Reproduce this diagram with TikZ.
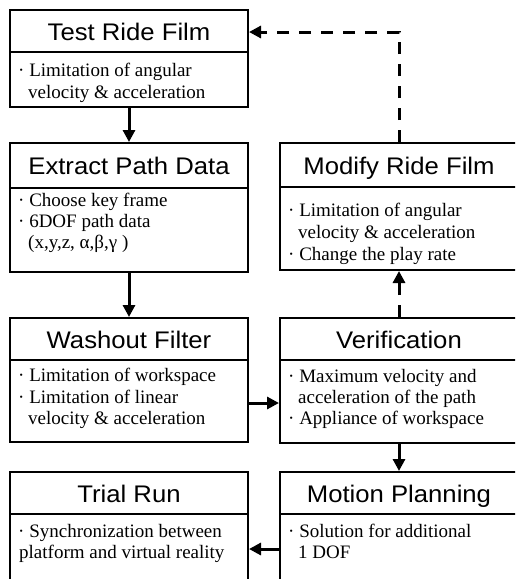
\documentclass[tikz,border=0pt]{standalone}
\usepackage{fontspec}
\setmainfont{Liberation Serif}
\newfontfamily\headfont[FakeStretch=1.07]{Liberation Sans}
\usetikzlibrary{arrows.meta}
\begin{document}
\begin{tikzpicture}[x=1pt,y=-1pt,
  box/.style={draw, line width=2pt, rectangle, inner sep=0pt, minimum width=238pt},
  head/.style={font=\headfont\fontsize{24}{24}\selectfont, anchor=base, inner sep=0pt},
  txt/.style={font=\fontsize{19}{22}\selectfont, anchor=base west, inner sep=0pt},
  rule/.style={line width=1.2pt},
  flow/.style={line width=3pt, -{Triangle[length=12pt,width=12pt]}},
  back/.style={flow, dash pattern=on 12pt off 10pt}]
\clip (0,0) rectangle (515,579);
\fill[white] (0,0) rectangle (515,579);

% ---------- left column ----------
\node[box, minimum height=97pt]  (test)    at (129,58.5)  {};
\node[box, minimum height=129pt] (extract) at (129,207.5) {};
\node[box, minimum height=124pt] (washout) at (129,380)   {};
\node[box, minimum height=114pt] (trial)   at (129,529)   {};
% ---------- right column ----------
\node[box, minimum height=127pt] (modify)  at (399,206.5) {};
\node[box, minimum height=125pt] (verify)  at (399,380.5) {};
\node[box, minimum height=114pt] (motion)  at (399,529)   {};

% title dividers
\draw[rule] (test.west |- 0,52)     -- (test.east |- 0,52);
\draw[rule] (extract.west |- 0,188) -- (extract.east |- 0,188);
\draw[rule] (washout.west |- 0,360) -- (washout.east |- 0,360);
\draw[rule] (trial.west |- 0,514)   -- (trial.east |- 0,514);
\draw[rule] (modify.west |- 0,187)  -- (modify.east |- 0,187);
\draw[rule] (verify.west |- 0,360)  -- (verify.east |- 0,360);
\draw[rule] (motion.west |- 0,514)  -- (motion.east |- 0,514);

% titles
\node[head] (testH)    at (129,40)    {Test Ride Film};
\node[head] (extractH) at (129,174.5) {Extract Path Data};
\node[head] (washoutH) at (129,348)   {Washout Filter};
\node[head] (trialH)   at (129,502)   {Trial Run};
\node[head] (modifyH)  at (399,174)   {Modify Ride Film};
\node[head] (verifyH)  at (399,348)   {Verification};
\node[head] (motionH)  at (399,502)   {Motion Planning};

% body texts
\node[txt] (test1) at (18,76)  {· Limitation of angular};
\node[txt] (test2) at (28,98)  {velocity \& acceleration};

\node[txt] (ext1) at (18,206) {· Choose key frame};
\node[txt] (ext2) at (18,227) {· 6DOF path data};
\node[txt] (ext3) at (28,248) {(x,y,z, α,β,γ )};

\node[txt] (wash1) at (18,381) {· Limitation of workspace};
\node[txt] (wash2) at (18,403) {· Limitation of linear};
\node[txt] (wash3) at (28,424) {velocity \& acceleration};

\node[txt] (trial1) at (18,537) {· Synchronization between};
\node[txt] (trial2) at (19,558) {platform and virtual reality};

\node[txt] (mod1) at (288,216) {· Limitation of angular};
\node[txt] (mod2) at (298,238) {velocity \& acceleration};
\node[txt] (mod3) at (288,260) {· Change the play rate};

\node[txt] (ver1) at (288,382) {· Maximum velocity and};
\node[txt] (ver2) at (298,403) {acceleration of the path};
\node[txt] (ver3) at (288,424) {· Appliance of workspace};

\node[txt] (mot1) at (288,537) {· Solution for additional};
\node[txt] (mot2) at (298,558) {1 DOF};

% connectors
\draw[flow] (test.south) -- (extract.north);
\draw[flow] (extract.south) -- (washout.north);
\draw[flow] ([yshift=-23pt]washout.east) -- ([yshift=-23pt]washout.east -| verify.west);
\draw[back] (verify.north) -- (modify.south);
\draw[back] (modify.north) |- ([yshift=26.5pt]test.east);
\draw[flow] (verify.south) -- (motion.north);
\draw[flow] ([yshift=-20pt]motion.west) -- ([yshift=-20pt]motion.west -| trial.east);
\end{tikzpicture}
\end{document}
